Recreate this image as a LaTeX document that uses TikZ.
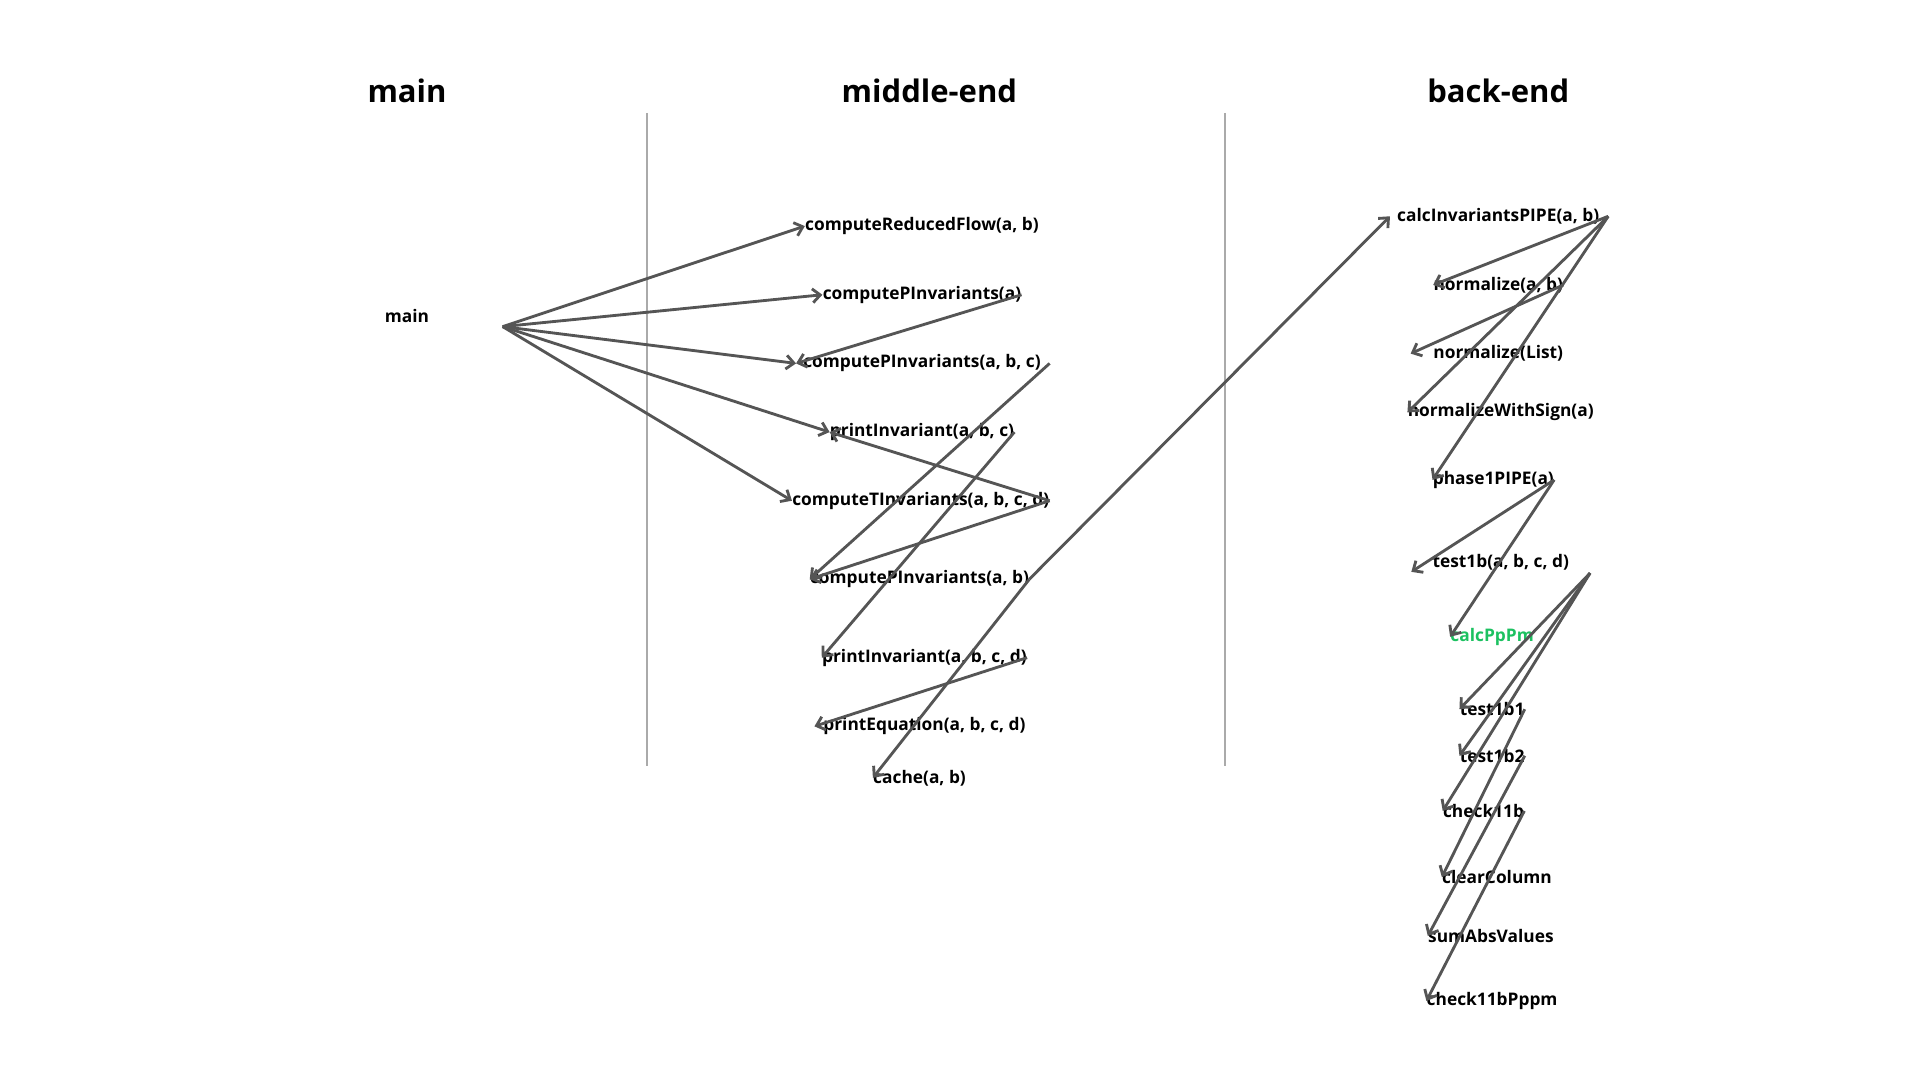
\documentclass[tikz,border=0pt]{standalone}
\usepackage{fontspec}
\setmainfont{Open Sans}
\usepackage{xcolor}
\usepackage{tikz}
\usetikzlibrary{arrows.meta, positioning, calc}
\definecolor{edgegray}{HTML}{555555}
\definecolor{sepgray}{HTML}{AAAAAA}
\definecolor{hotgreen}{HTML}{1CC160}

\begin{document}
\begin{tikzpicture}[x=0.025cm, y=-0.025cm,
		fn/.style={font=\fontsize{10.05}{12}\selectfont\bfseries, inner sep=0pt, yshift=-1pt},
		colhead/.style={font=\fontsize{18}{22}\selectfont\bfseries, inner sep=0pt},
		call/.style={-{Straight Barb[length=4.5pt,width=8pt]}, line width=1.65pt, edgegray},
		sep/.style={line width=1.3pt, sepgray}]
		\useasboundingbox (0,0) rectangle (1566,880.9);
		
		\node[colhead] (hmain) at (332,74) {main};
		\node[colhead] (hmid) at (758,74) {middle-end};
		\node[colhead] (hback) at (1222,74) {back-end};
		\draw[sep] (528,92) -- (528,625);
		\draw[sep] (999,92) -- (999,625);
		
		%% main
		\node[fn] (main) at (332,256) {main};
		\coordinate (mainout) at ([shift={(78,9)}]main.center);
		
		%% middle-end
		\node[fn] (crf) at (752,183) {computeReducedFlow(a, b)};
		\node[fn] (cpia) at (752,239) {computePInvariants(a)};
		\node[fn] (cpiabc) at (752,295) {computePInvariants(a, b, c)};
		\node[fn] (piabc) at (752,351) {printInvariant(a, b, c)};
		\node[fn] (cti) at (751,407) {computeTInvariants(a, b, c, d)};
		\node[fn] (cpiab) at (750,471) {computePInvariants(a, b)};
		\node[fn] (piabcd) at (754,535) {printInvariant(a, b, c, d)};
		\node[fn] (peq) at (754,591) {printEquation(a, b, c, d)};
		\node[fn] (cache) at (750,633) {cache(a, b)};
		
		%% back-end
		\node[fn] (cip) at (1222,175) {calcInvariantsPIPE(a, b)};
		\node[fn] (nab) at (1222,231) {normalize(a, b)};
		\node[fn] (nlist) at (1222,287) {normalize(List)};
		\node[fn] (nws) at (1224,335) {normalizeWithSign(a)};
		\node[fn] (ph1) at (1218,390) {phase1PIPE(a)};
		\node[fn] (t1b) at (1224,457) {test1b(a, b, c, d)};
		\node[fn, text=hotgreen] (cpp) at (1217,518) {calcPpPm};
		\node[fn] (t1ba) at (1217,577) {test1b1};
		\node[fn] (t1bb) at (1217,615) {test1b2};
		\node[fn] (c11b) at (1210,660) {check11b};
		\node[fn] (clr) at (1221,714) {clearColumn};
		\node[fn] (sav) at (1216,762) {sumAbsValues};
		\node[fn] (c11bp) at (1217,815) {check11bPppm};
		
		%% calls
		\draw[call] (mainout) -- (crf.west);
		\draw[call] (mainout) -- (cpia.west);
		\draw[call] (mainout) -- ([xshift=-4pt]cpiabc.west);
		\draw[call] (mainout) -- (piabc.west);
		\draw[call] (mainout) -- (cti.west);
		\draw[call] (cpia.east) -- ([xshift=-4pt]cpiabc.west);
		\draw[call] ([xshift=5pt]cpiabc.east) -- (cpiab.west);
		\draw[call] (cti.east) -- (piabc.west);
		\draw[call] (cti.east) -- (cpiab.west);
		\draw[call] (piabc.east) -- (piabcd.west);
		\draw[call] (cpiab.east) -- ([xshift=-4pt]cip.west);
		\draw[call] (cpiab.east) -- (cache.west);
		\draw[call] (piabcd.east) -- ([xshift=-5pt]peq.west);
		\draw[call] ([xshift=5pt]cip.east) -- (nab.west);
		\draw[call] ([xshift=5pt]cip.east) -- (nws.west);
		\draw[call] ([xshift=5pt]cip.east) -- (ph1.west);
		\draw[call] (nab.east) -- ([xshift=-13pt]nlist.west);
		\draw[call] (ph1.east) -- ([shift={(-17,8)}]t1b.west);
		\draw[call] (ph1.east) -- (cpp.west);
		\draw[call] ([shift={(17,9)}]t1b.east) -- (t1ba.west);
		\draw[call] ([shift={(17,9)}]t1b.east) -- (t1bb.west);
		\draw[call] ([shift={(17,9)}]t1b.east) -- (c11b.west);
		\draw[call] (t1ba.east) -- (clr.west);
		\draw[call] (t1bb.east) -- (sav.west);
		\draw[call] (c11b.east) -- (c11bp.west);
\end{tikzpicture}
\end{document}
